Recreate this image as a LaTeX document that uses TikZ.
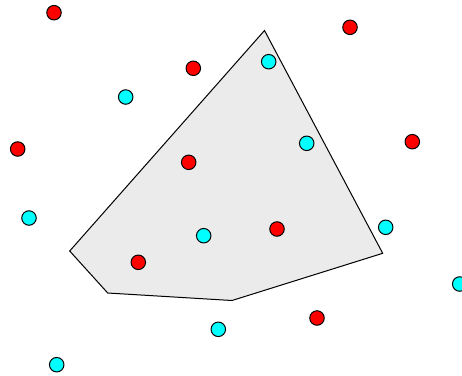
\documentclass[tikz,border=0pt]{standalone}
\definecolor{dotred}{RGB}{255,0,0}
\definecolor{dotcyan}{RGB}{0,255,255}
\definecolor{hullgray}{RGB}{235,235,235}
\begin{document}
\begin{tikzpicture}[x=1pt,y=-1pt,
  dot/.style={circle,draw=black,line width=1pt,minimum size=14.5pt,inner sep=0pt},
  reddot/.style={dot,fill=dotred},
  cyandot/.style={dot,fill=dotcyan},
  hull/.style={draw=black,line width=1pt,fill=hullgray,line join=miter}]
\useasboundingbox (0,0) rectangle (462,375);
\fill[white] (0,0) rectangle (462,375);
\coordinate (p1) at (264.5,30.5);
\coordinate (p2) at (382.7,253.3);
\coordinate (p3) at (232,300.5);
\coordinate (p4) at (107.7,293);
\coordinate (p5) at (69.7,251);
\draw[hull] (p1) -- (p2) -- (p3) -- (p4) -- (p5) -- cycle;
\node[reddot] (r1) at (54,12.7) {};
\node[reddot] (r2) at (350,27.3) {};
\node[reddot] (r3) at (193.3,68.3) {};
\node[reddot] (r4) at (412.3,141.7) {};
\node[reddot] (r5) at (17.7,149) {};
\node[reddot] (r6) at (188.7,162.3) {};
\node[reddot] (r7) at (277,229) {};
\node[reddot] (r8) at (138.3,262.3) {};
\node[reddot] (r9) at (317,318) {};
\node[cyandot] (c1) at (268.7,61.7) {};
\node[cyandot] (c2) at (125.7,97) {};
\node[cyandot] (c3) at (306.7,143.3) {};
\node[cyandot] (c4) at (29,218) {};
\node[cyandot] (c5) at (203.7,235.7) {};
\node[cyandot] (c6) at (385.7,227.3) {};
\node[cyandot] (c7) at (459.7,284) {};
\node[cyandot] (c8) at (218.3,329.3) {};
\node[cyandot] (c9) at (56.7,364.7) {};
\end{tikzpicture}
\end{document}
